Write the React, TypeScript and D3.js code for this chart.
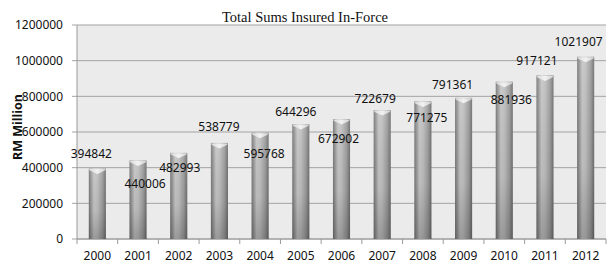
import React from "react";
import * as d3 from "d3";

const years = ["2000","2001","2002","2003","2004","2005","2006","2007","2008","2009","2010","2011","2012"];
const sums = [394842,440006,482993,538779,595768,644296,672902,722679,771275,791361,881936,917121,1021907];
const yTicks = [0,200000,400000,600000,800000,1000000,1200000];
const title = "Total Sums Insured In-Force";
const yTitle = "RM Million";

// label placement offsets (dx from bar centre, dy of label centre from bar top)
const labelDx = [-6,7,1,-0.5,4,-5,-3,-7,4,-11,7,-8,-7];
const labelDy = [-14.5,23.5,15,-16,21,-12,20,-11,16.5,-13,18,-15,-15];

const W = 614, H = 263;
const m = { left: 77, right: 606, top: 25, bottom: 239 };

export default function App() {
  const x = d3.scaleBand<string>().domain(years).range([m.left, m.right]).paddingInner(0).paddingOuter(0);
  const y = d3.scaleLinear().domain([0, 1200000]).range([m.bottom, m.top]);
  const bw = x.bandwidth() * 0.42;
  const sans = "'Noto Sans', 'Liberation Sans', sans-serif";
  return (
    <svg width={W} height={H} style={{ position: "absolute", left: 0, top: 0, display: "block", background: "#fff" }}>
      <defs>
        <linearGradient id="barH" x1="0" y1="0" x2="1" y2="0">
          <stop offset="0" stopColor="#767676" />
          <stop offset="0.3" stopColor="#c6c6c6" />
          <stop offset="0.5" stopColor="#c0c0c0" />
          <stop offset="0.8" stopColor="#9c9c9c" />
          <stop offset="1" stopColor="#6e6e6e" />
        </linearGradient>
        <linearGradient id="barV" x1="0" y1="0" x2="0" y2="1">
          <stop offset="0" stopColor="#ffffff" stopOpacity="0.08" />
          <stop offset="0.6" stopColor="#000000" stopOpacity="0.05" />
          <stop offset="1" stopColor="#000000" stopOpacity="0.22" />
        </linearGradient>
        <linearGradient id="cap" x1="0" y1="0" x2="1" y2="0">
          <stop offset="0" stopColor="#d8d8d8" />
          <stop offset="0.5" stopColor="#f2f2f2" />
          <stop offset="1" stopColor="#cfcfcf" />
        </linearGradient>
      </defs>
      <rect x={m.left} y={m.top} width={m.right - m.left} height={m.bottom - m.top} fill="#ebebeb" />
      {yTicks.map((t) => (
        <g key={t}>
          <line x1={m.left - 5} x2={m.right} y1={y(t)} y2={y(t)} stroke="#a3a3a3" strokeWidth={1} />
          <text x={63} y={y(t)} dy="0.35em" textAnchor="end" fontFamily={sans} fontSize={12} fill="#111">{t}</text>
        </g>
      ))}
      <line x1={m.left} x2={m.left} y1={m.top} y2={m.bottom} stroke="#9a9a9a" />
      <line x1={m.left} x2={m.right} y1={m.bottom} y2={m.bottom} stroke="#9a9a9a" />
      {years.map((yr) => (
        <line key={"t" + yr} x1={(x(yr) as number)} x2={(x(yr) as number)} y1={m.bottom} y2={m.bottom + 5} stroke="#9a9a9a" />
      ))}
      <line x1={m.right} x2={m.right} y1={m.bottom} y2={m.bottom + 5} stroke="#9a9a9a" />
      {years.map((yr, i) => {
        const cx = (x(yr) as number) + x.bandwidth() / 2;
        const x0 = cx - bw / 2;
        const top = y(sums[i]);
        const h = m.bottom - top;
        return (
          <g key={yr}>
            <rect x={x0} y={top} width={bw} height={h} fill="url(#barH)" />
            <rect x={x0} y={top} width={bw} height={h} fill="url(#barV)" />
            <path d={`M${x0},${top + 0.5} L${x0 + bw},${top + 0.5} L${x0 + bw - 1},${top + 2} L${cx},${top + 5.5} L${x0 + 1},${top + 2} Z`} fill="url(#cap)" />
          </g>
        );
      })}
      {years.map((yr, i) => {
        const cx = (x(yr) as number) + x.bandwidth() / 2;
        return (
          <text key={"l" + yr} x={cx + labelDx[i]} y={y(sums[i]) + labelDy[i]} dy="0.35em" textAnchor="middle" fontFamily={sans} fontSize={12} fill="#111">{sums[i]}</text>
        );
      })}
      {years.map((yr) => (
        <text key={"x" + yr} x={(x(yr) as number) + x.bandwidth() / 2} y={256} dy="0.35em" textAnchor="middle" fontFamily={sans} fontSize={12} fill="#111">{yr}</text>
      ))}
      <text x={305} y={22} textAnchor="middle" fontFamily="'Liberation Serif', 'Times New Roman', serif" fontSize={14.5} fill="#111">{title}</text>
      <text transform={`translate(22,127) rotate(-90)`} textAnchor="middle" fontFamily={sans} fontSize={12.5} fontWeight="bold" fill="#111">{yTitle}</text>
    </svg>
  );
}
